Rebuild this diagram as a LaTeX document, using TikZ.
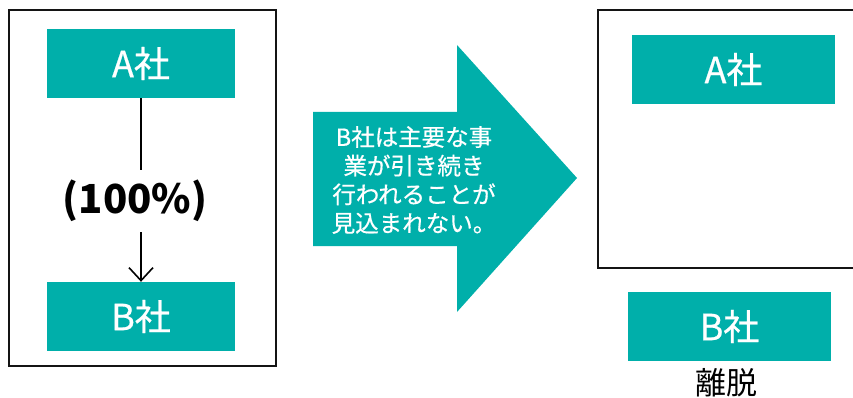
\documentclass[tikz,border=0pt]{standalone}
\usepackage{fontspec}
\setmainfont{Noto Sans CJK JP}
\newfontfamily\jp{Noto Sans CJK JP}
\newfontfamily\jpm[FakeBold=0.6]{Noto Sans CJK JP}
\usetikzlibrary{arrows.meta}
\definecolor{teal1}{RGB}{0,175,170}
\definecolor{frame1}{RGB}{20,20,20}
\tikzset{
  cobox/.style={fill=teal1, text=white, minimum height=69pt, inner sep=0pt,
    font=\jpm\fontsize{36}{36}\selectfont},
  framebox/.style={draw=frame1, line width=1.8pt},
  conn/.style={line width=1.6pt, black}
}
\begin{document}
\begin{tikzpicture}[x=1pt,y=-1pt]
\clip (0,0) rectangle (853,398);
\useasboundingbox (0,0) rectangle (853,398);
% left frame
\draw[framebox] (9,10) rectangle (276,366);
\node[cobox, minimum width=188pt] (lA) at (141,63.5) {A社};
\node[cobox, minimum width=188pt] (lB) at (141,316.5) {B社};
\node[inner sep=0pt, minimum height=62pt, font=\jp\bfseries\fontsize{40}{40}\selectfont] (pct) at (135,201) {(100\%)};
\draw[conn] (lA.south) -- (lA.south |- pct.north);
\draw[conn, -{Straight Barb[length=13pt,width=24pt,line width=1.6pt]}] (lB.north |- pct.south) -- (lB.north);
% big arrow
\fill[teal1] (313,112) -- (457,112) -- (457,45) -- (577,178) -- (457,312) -- (457,246) -- (313,246) -- cycle;
\node[text=white, align=center, inner sep=0pt, font=\jpm\fontsize{23.5}{28.7}\selectfont] (msg) at (414,180)
  {B社は主要な事\\業が引き続き\\行われることが\\見込まれない。};
% right frame
\draw[framebox] (598,10) rectangle (870,268);
\node[cobox, minimum width=203pt] (rA) at (733.5,69.5) {A社};
\node[cobox, minimum width=203pt] (rB) at (729.5,326.5) {B社};
\node[inner sep=0pt, font=\jp\fontsize{31}{31}\selectfont] (ri) at (726,383) {離脱};
\end{tikzpicture}
\end{document}
